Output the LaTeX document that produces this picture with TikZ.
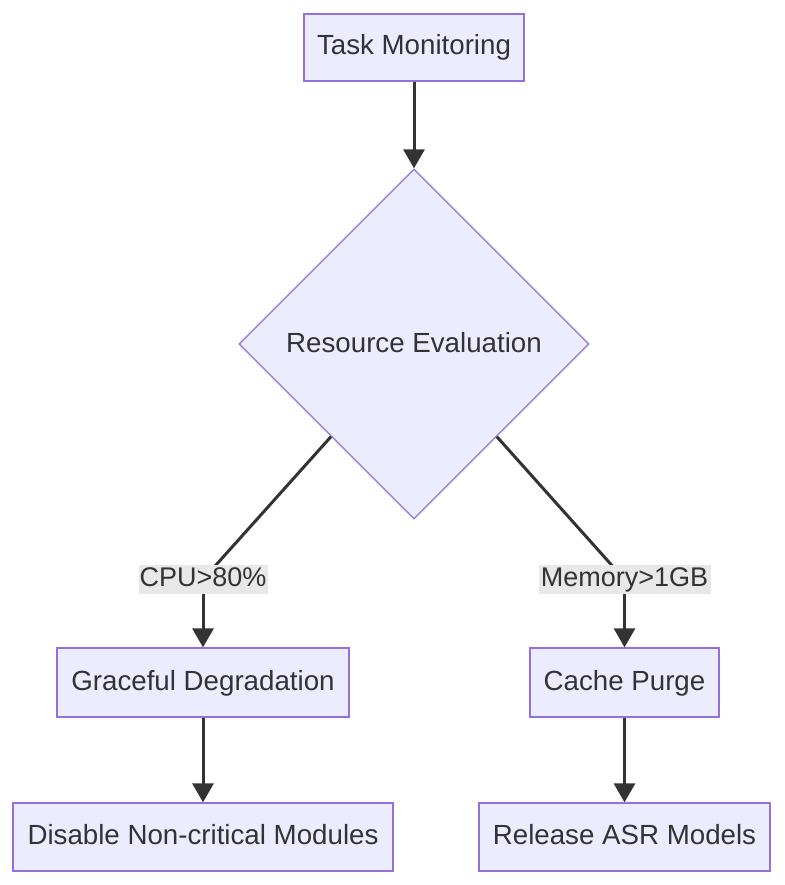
\documentclass[tikz,border=0pt]{standalone}
\usepackage{fontspec}
\setmainfont{Liberation Sans}
\usetikzlibrary{arrows.meta,shapes.geometric}
\definecolor{nodefill}{HTML}{ECECFF}
\definecolor{nodeline}{HTML}{9370DB}
\definecolor{edgecol}{HTML}{333333}
\definecolor{labfill}{HTML}{E8E8E8}
\definecolor{txt}{HTML}{333333}
\tikzset{
  procbox/.style={draw=nodeline, fill=nodefill, line width=1.3pt, inner sep=0pt,
    text=txt, font=\fontsize{27.7}{32}\selectfont, text height=20pt, text depth=5pt},
  decbox/.style={draw=nodeline, fill=nodefill, line width=1.3pt, diamond, aspect=1,
    inner sep=0pt, minimum width=350pt, minimum height=350pt,
    text=txt, font=\fontsize{27.7}{32}\selectfont},
  elab/.style={fill=labfill, inner sep=0pt, minimum height=29pt, text=txt,
    font=\fontsize{27}{30}\selectfont, text height=19pt, text depth=5pt},
  conn/.style={draw=edgecol, line width=3pt, -{Triangle[length=19pt,width=21pt]}},
  plain/.style={draw=edgecol, line width=3pt}
}
\begin{document}
\begin{tikzpicture}[x=1pt,y=-1pt]
\useasboundingbox (0,0) rectangle (784,885);
\node[procbox, minimum width=220pt, minimum height=67pt] (tm) at (414,47.5) {Task Monitoring};
\node[decbox] (re) at (414,344) {\raisebox{4pt}{Resource Evaluation}};
\node[procbox, minimum width=292pt, minimum height=69pt] (gd) at (203,682.5) {Graceful Degradation};
\node[procbox, minimum width=189pt, minimum height=69pt] (cp) at (624.5,682.5) {Cache Purge};
\node[procbox, minimum width=380pt, minimum height=68pt] (dm) at (203,837) {Disable Non-critical Modules};
\node[procbox, minimum width=291pt, minimum height=68pt] (ra) at (624.5,837) {Release ASR Models};
\coordinate (lc) at (203,579.5);
\coordinate (rc) at (624.5,579.5);
\draw[conn] (tm) -- (re);
\draw[plain] (re) -- (lc);
\draw[plain] (re) -- (rc);
\node[elab, minimum width=129pt] (ll) at (lc) {CPU>80\%};
\node[elab, minimum width=172pt] (rl) at (rc) {Memory>1GB};
\draw[conn] (ll) -- (gd);
\draw[conn] (rl) -- (cp);
\draw[conn] (gd) -- (dm);
\draw[conn] (cp) -- (ra);
\end{tikzpicture}
\end{document}
